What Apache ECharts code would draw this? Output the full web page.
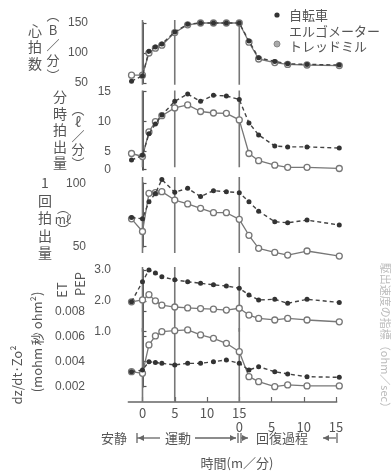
<!DOCTYPE html>
<html><head><meta charset="utf-8">
<script src="https://cdn.jsdelivr.net/npm/echarts@6/dist/echarts.min.js"></script>
<style>html,body{margin:0;padding:0;background:#fff}#c{width:392px;height:473px}</style>
</head><body><div id="c"></div>
<script>
// time axis: minutes (exercise 0-15, recovery shown as 15+ minutes)
const times = [-1.7, 0, 1, 2, 3, 5, 7, 9, 11, 13, 15, 16.5, 18, 20.5, 22.5, 25.5, 30.5];
const hrBike = [53, 62, 103, 110, 115, 135, 148, 150, 150, 150, 150, 120, 92, 86, 82, 81, 80];
const hrTread = [63, 63, 100, 108, 113, 134, 147, 150, 150, 150, 150, 118, 90, 84, 81, 80, 79];
const coBike = [3.6, 4.4, 8.0, 9.6, 11.1, 13.4, 14.6, 13.4, 14.4, 14.3, 13.7, 9.8, 7.8, 5.95, 5.8, 5.8, 5.6];
const coTread = [4.7, 4.2, 8.3, 10.0, 11.0, 12.3, 12.8, 11.7, 11.45, 11.4, 10.3, 4.7, 3.5, 2.75, 2.4, 2.4, 2.2];
const svBike = [73, 72, 85.5, 92, 103, 93, 96, 89.5, 94.2, 93.4, 92.6, 85.5, 78, 69.7, 68.9, 71, 67.1];
const svTread = [72, 62, 92.1, 92.6, 93.4, 86.8, 83.7, 80.3, 76.8, 76.8, 71.6, 59, 48.7, 45.5, 43.4, 46.6, 42.6];
const etBike = [1.97, 2.62, 3.0, 2.9, 2.78, 2.68, 2.62, 2.57, 2.52, 2.48, 2.41, 2.19, 2.03, 2.05, 1.92, 2.05, 1.95];
const etTread = [1.97, 2.03, 2.2, 2.0, 1.86, 1.8, 1.77, 1.75, 1.73, 1.70, 1.76, 1.54, 1.43, 1.38, 1.43, 1.38, 1.32];
const dzBike = [0.0032, 0.00334, 0.0040, 0.00394, 0.00387, 0.00374, 0.00387, 0.00387, 0.0040, 0.00414, 0.00387, 0.00334, 0.0036, 0.0032, 0.00302, 0.0028, 0.00275];
const dzTread = [0.0032, 0.00307, 0.00534, 0.00606, 0.0064, 0.00648, 0.00654, 0.00614, 0.00587, 0.00547, 0.0048, 0.0028, 0.0024, 0.0020, 0.00214, 0.00206, 0.00206];
const markTimes = [0, 5, 15];
const hrTicks = [50, 100, 150];
const coTicks = [2, 5, 10, 15];
const coTickLabels = ['0', '5', '10', '15'];
const svTicks = [50, 100];
const etTicks = [1, 2, 3];
const dzTicks = [0.002, 0.004, 0.006, 0.008];
const exTicks = [0, 5, 10, 15];
const recTicks = [15, 20, 25, 30];
const seriesNames = ['自転車エルゴメーター', 'トレッドミル'];

const FONT = '"Noto Sans CJK JP", "Noto Sans", sans-serif';
const TXT = '#555';
const panels = [
  {top: 23, h: 60, min: 50, max: 150, off: 36.3, ticks: hrTicks, fmt: v => String(v), bike: hrBike, tread: hrTread, lo: 47, hi: 155},
  {top: 91.7, h: 78, min: 2, max: 15, off: 13.3, ticks: coTicks, fmt: v => coTickLabels[coTicks.indexOf(v)], bike: coBike, tread: coTread, lo: 2.4, hi: 15.2},
  {top: 183.3, h: 63.4, min: 50, max: 100, off: 38.3, ticks: svTicks, fmt: v => String(v), bike: svBike, tread: svTread, lo: 45, hi: 105},
  {top: 270, h: 61.7, min: 1, max: 3, off: 13.3, ticks: etTicks, fmt: v => v.toFixed(1), bike: etBike, tread: etTread, lo: 1.0, hi: 3.1},
  {top: 311.7, h: 75, min: 0.002, max: 0.008, off: 39.3, ticks: dzTicks, fmt: v => v.toFixed(3), bike: dzBike, tread: dzTread, lo: 0.00078, hi: 0.0067}
];
const LEFT = 128.3, RIGHT = 392 - 336.7, XMIN = -2.2, XMAX = 30.1;

const grid = [], xAxis = [], yAxis = [], series = [];
panels.forEach((p, i) => {
  grid.push({left: LEFT, right: RIGHT, top: p.top, height: p.h});
  xAxis.push({gridIndex: i, type: 'value', min: XMIN, max: XMAX, show: i === 4,
    position: 'bottom', offset: i === 4 ? 15.3 : 0,
    axisLine: {show: true, onZero: false, lineStyle: {color: '#666', width: 1.5}},
    axisTick: {show: true, inside: true, length: 5, customValues: [0, 5, 10, 15, 20, 25, 30], lineStyle: {color: '#666', width: 1.2}},
    axisLabel: {customValues: exTicks, color: TXT, fontSize: 13, margin: 5, fontFamily: FONT},
    splitLine: {show: false}});
  yAxis.push({gridIndex: i, type: 'value', min: p.min, max: p.max, position: 'left', offset: p.off,
    axisLine: {show: true, lineStyle: {color: '#555', width: 2}},
    axisTick: {show: true, inside: true, length: 4, customValues: p.ticks, lineStyle: {color: '#555', width: 1.2}},
    axisLabel: {customValues: p.ticks, formatter: p.fmt, color: TXT, fontSize: 12, margin: 4, fontFamily: 'Liberation Sans Narrow, Liberation Sans, sans-serif'},
    splitLine: {show: false}});
  // phase boundary lines (exercise start, 5 min, exercise end)
  markTimes.forEach(mt => {
    series.push({type: 'line', xAxisIndex: i, yAxisIndex: i, clip: false, animation: false, silent: true,
      data: [[mt, p.lo], [mt, p.hi]], symbol: 'none',
      lineStyle: {color: '#777', width: 1.6}, z: 1, tooltip: {show: false}});
  });
  series.push({type: 'line', name: seriesNames[1], xAxisIndex: i, yAxisIndex: i, clip: false, animation: false,
    data: times.map((t, k) => [t, p.tread[k]]),
    symbol: 'circle', symbolSize: 6,
    itemStyle: {color: '#fff', borderColor: '#777', borderWidth: 1.3},
    lineStyle: {color: '#777', width: 1.3}, z: 2});
  series.push({type: 'line', name: seriesNames[0], xAxisIndex: i, yAxisIndex: i, clip: false, animation: false,
    data: times.map((t, k) => [t, p.bike[k]]),
    symbol: 'circle', symbolSize: 5,
    itemStyle: {color: '#333'},
    lineStyle: {color: '#444', width: 1.4, type: [4, 3]}, z: 3});
});
xAxis.push({gridIndex: 4, type: 'value', min: XMIN, max: XMAX, position: 'bottom', offset: 15.3,
  axisLine: {show: false}, axisTick: {show: false}, splitLine: {show: false},
  axisLabel: {customValues: recTicks, formatter: v => String(v - 15), color: TXT, fontSize: 13, margin: 19, fontFamily: FONT}});

function t(text, x, y, size, o) {
  o = o || {};
  return {type: 'text', x: x, y: y, silent: true, rotation: o.rot || 0,
    style: {text: text, fill: o.fill || TXT, font: size + 'px ' + FONT,
      textAlign: o.align || 'center', align: o.align || 'center',
      textVerticalAlign: 'middle', verticalAlign: 'middle', lineHeight: o.lh || size + 2}};
}
function ln(x1, y1, x2, y2) {
  return {type: 'line', silent: true, shape: {x1, y1, x2, y2}, style: {stroke: '#666', lineWidth: 1.3}};
}
function arrow(x, y, dir) {
  return {type: 'polygon', silent: true, shape: {points: [[x, y], [x - dir * 6, y - 3], [x - dir * 6, y + 3]]}, style: {fill: '#666'}};
}
const R = Math.PI / 2;
const graphic = [
  // legend
  {type: 'circle', silent: true, shape: {cx: 277, cy: 15, r: 2.6}, style: {fill: '#333'}},
  t('自転車', 289, 15, 13, {align: 'left'}),
  t('エルゴメーター', 289, 31, 13, {align: 'left'}),
  {type: 'circle', silent: true, shape: {cx: 277, cy: 44, r: 3}, style: {fill: '#aaa', stroke: '#888'}},
  t('トレッドミル', 289, 46, 13, {align: 'left'}),
  // y titles
  t('心\n拍\n数', 35, 47, 14, {lh: 16.5}),
  t('︵\nB\n／\n分\n︶', 53, 45, 13, {lh: 15}),
  t('分\n時\n拍\n出\n量', 60, 130, 14, {lh: 16.5}),
  t('︵\nℓ\n／\n分\n︶', 78, 136, 13, {lh: 13.5}),
  t('1\n回\n拍\n出\n量', 45, 218, 14, {lh: 17.5}),
  t('︵\nmℓ\n︶', 63, 219, 12, {lh: 11}),
  t('ET', 62, 290, 13, {rot: R}),
  t('PEP', 80, 284, 13, {rot: R}),
  t('dz/dt·Zo²', 17, 375, 13, {rot: R}),
  t('(mohm 秒 ohm²)', 37, 342, 13, {rot: R}),
  t('駆出速度の指標（ohm／sec）', 385, 338, 11, {rot: -R, fill: '#bbb'}),
  // bottom phase labels
  t('安静', 114, 438, 13),
  ln(137, 433, 137, 443), ln(137, 438, 160, 438), arrow(138, 438, -1),
  t('運動', 178, 438, 13),
  ln(195, 438, 236, 438), arrow(236, 438, 1), ln(238, 433, 238, 443),
  ln(241, 433, 241, 443), ln(241, 438, 248, 438), arrow(248, 438, 1),
  t('回復過程', 282, 438, 13),
  ln(323, 438, 336, 438), arrow(323, 438, -1), ln(337, 433, 337, 443),
  t('時間(m／分)', 237, 463, 13)
];

const chart = echarts.init(document.getElementById('c'), null, {renderer: 'canvas'});
chart.setOption({animation: false, grid, xAxis, yAxis, series, graphic});
</script></body></html>
